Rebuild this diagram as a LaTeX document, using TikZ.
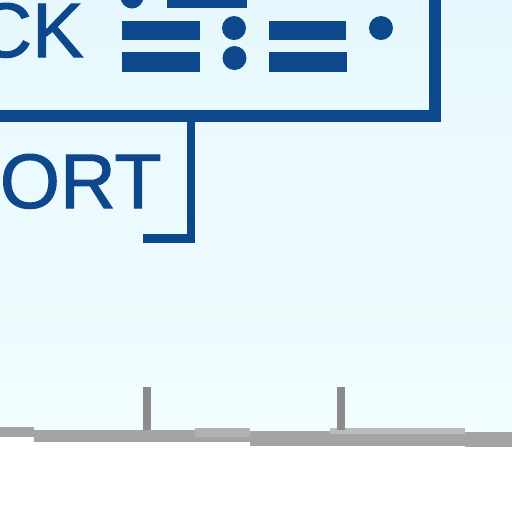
\documentclass[tikz,border=0pt]{standalone}
\usepackage{fontspec}
\setmainfont{Liberation Sans}
\newfontfamily\signfont[FakeBold=1.3]{Liberation Sans}
\definecolor{signblue}{RGB}{14,72,140}
\definecolor{skytop}{RGB}{230,248,253}
\definecolor{skylow}{RGB}{242,253,255}
\definecolor{groundgray}{RGB}{164,164,164}
\definecolor{postgray}{RGB}{140,140,140}
\begin{document}
\begin{tikzpicture}[x=0.02cm,y=-0.02cm,
  signtext/.style={text=signblue,inner sep=0pt,font=\signfont\fontsize{44}{48}\selectfont},
  bar/.style={fill=signblue},
  frame/.style={draw=signblue,line width=0.24cm,line cap=butt,line join=miter},
  sideframe/.style={draw=signblue,line width=0.18cm,line join=miter}]
\useasboundingbox (0,0) rectangle (512,512);
\clip (0,0) rectangle (512,512);
% sky and ground
\shade[top color=skytop,bottom color=skylow] (0,0) rectangle (512,432);
\fill[white] (0,432) rectangle (512,512);
\fill[groundgray] (0,427) rectangle (34,437);
\fill[groundgray] (34,430) rectangle (250,442);
\fill[groundgray!85] (195,428) rectangle (250,437);
\fill[groundgray] (250,431) rectangle (465,446);
\fill[groundgray!75] (330,428) rectangle (465,434);
\fill[groundgray] (465,432) rectangle (512,447);
\fill[postgray] (143,387) rectangle (151,430);
\fill[postgray] (337,387) rectangle (345,430);

% frames
\coordinate (BL) at (-20,116);
\coordinate (BR) at (435.5,116);
\coordinate (TR) at (435.5,-20);
\draw[frame] (BL) -- (BR) -- (TR);
\coordinate (PT) at (191,116);
\coordinate (PB) at (191,238);
\coordinate (PL) at (143,238);
\draw[sideframe] (PT) -- (PB) -- (PL);

% texts
\node(top) [signtext,anchor=base east] at (84,57) {CK};
\node(sub) [signtext,anchor=base east] at (162,208) {PORT};

% symbols
\fill[bar] (132,-3) circle (11.5);
\fill[bar] (167,-11) rectangle (247,8);
\fill[bar] (122,21) rectangle (200,40);
\fill[bar] (234,28) circle (12);
\fill[bar] (269,21) rectangle (346,40);
\fill[bar] (381,28) circle (12);
\fill[bar] (122,52) rectangle (200,72);
\fill[bar] (234.5,58) circle (12);
\fill[bar] (269,52) rectangle (347,72);
\end{tikzpicture}
\end{document}
